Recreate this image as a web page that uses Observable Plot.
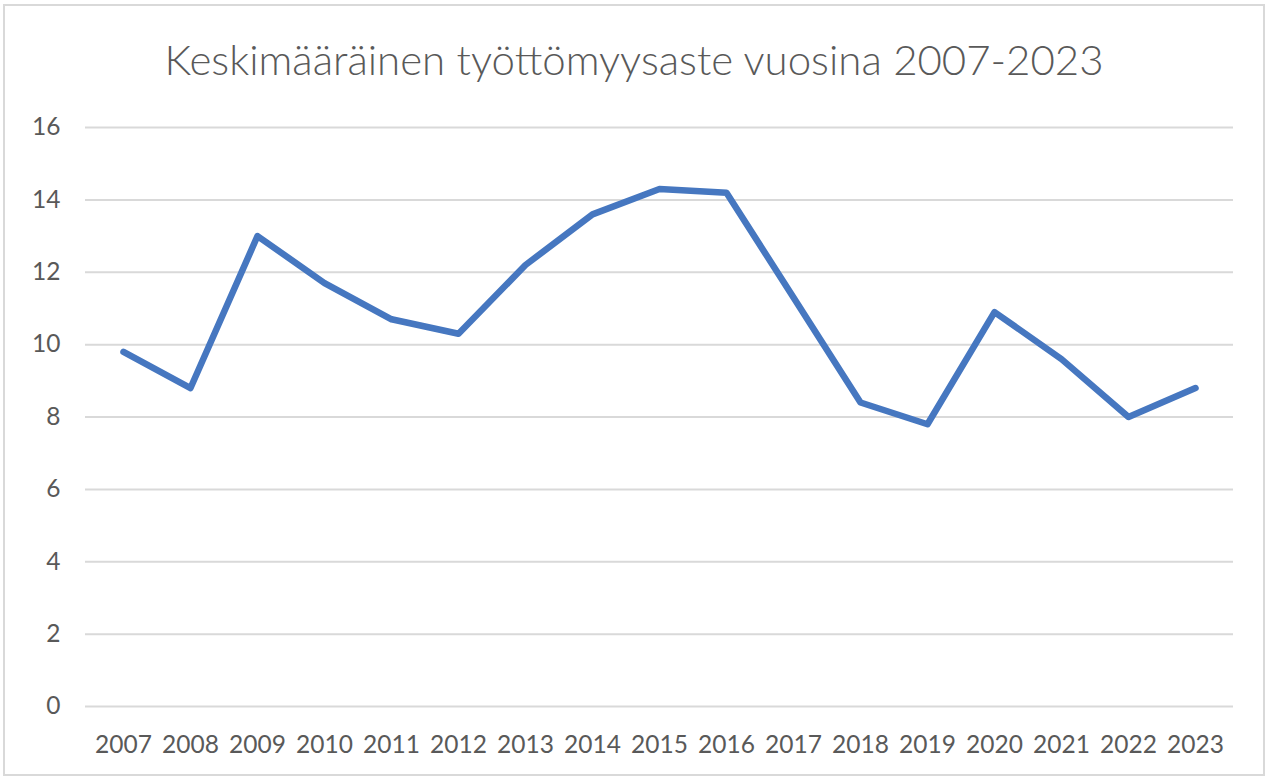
<!DOCTYPE html>
<html>
<head>
<meta charset="utf-8">
<script src="https://cdn.jsdelivr.net/npm/d3@7"></script>
<script src="https://cdn.jsdelivr.net/npm/@observablehq/plot@0.6"></script>
<style>
  html, body { margin: 0; padding: 0; background: #fff; }
  #frame { position: absolute; left: 3px; top: 4px; width: 1262px; height: 772px; border: 2px solid #d9d9d9; box-sizing: border-box; }
  #title { position: absolute; left: 0; top: 34px; width: 1268px; text-align: center; font-family: Lato, "Open Sans", sans-serif; font-weight: 300; font-size: 42px; line-height: 50px; color: #595959; white-space: nowrap; }
  #chart { position: absolute; left: 0; top: 100px; }
</style>
</head>
<body>
<div id="frame"></div>
<div id="title">Keskimääräinen työttömyysaste vuosina 2007-2023</div>
<div id="chart"></div>
<script>
const years = ["2007","2008","2009","2010","2011","2012","2013","2014","2015","2016","2017","2018","2019","2020","2021","2022","2023"];
const rates = [9.8, 8.8, 13.0, 11.7, 10.7, 10.3, 12.2, 13.6, 14.3, 14.2, 11.3, 8.4, 7.8, 10.9, 9.6, 8.0, 8.8];
const yTicks = [0, 2, 4, 6, 8, 10, 12, 14, 16];

const data = years.map((y, i) => ({year: y, rate: rates[i]}));
const tickFont = 'Lato, "Open Sans", sans-serif';

const chart = Plot.plot({
  width: 1268,
  height: 678,
  marginTop: 27,
  marginBottom: 72,
  marginLeft: 85,
  marginRight: 35,
  style: { fontFamily: tickFont, fontSize: "24.5px", color: "#595959", background: "transparent" },
  x: { type: "point", domain: years, padding: 0.5, label: null, tickSize: 0, tickPadding: 29 },
  y: { domain: [0, 16], ticks: yTicks, label: null, tickSize: 0, tickPadding: 25 },
  marks: [
    Plot.ruleY(yTicks, { stroke: "#d9d9d9", strokeWidth: 2, strokeOpacity: 1 }),
    Plot.line(data, { x: "year", y: "rate", stroke: "#4677C0", strokeWidth: 6.5, strokeLinejoin: "round", strokeLinecap: "round" })
  ]
});
document.getElementById("chart").appendChild(chart);
</script>
</body>
</html>
